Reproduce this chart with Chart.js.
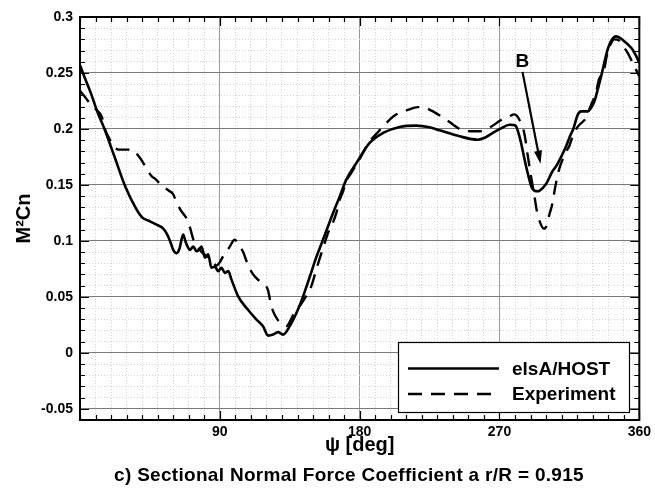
<!DOCTYPE html>
<html>
<head>
<meta charset="utf-8">
<script src="https://cdn.jsdelivr.net/npm/chart.js@4.4.1/dist/chart.umd.min.js"></script>
<style>
    html, body { margin: 0; padding: 0; background: #fff; }
</style>
</head>
<body>
<canvas id="cn-chart" width="655" height="491"></canvas>
<script>
// azimuth psi [deg] and M2Cn, elsA/HOST computation
const psiHost = [0, 3, 7, 11, 16, 22, 29, 36, 40, 45, 50, 53.6, 56, 58, 60, 62.1, 64, 66.4, 68, 69.6,
    70.7, 72.9, 75, 77, 78.2, 80.4, 82.5, 84.6, 86.8, 88.9, 91.1, 93.2, 95.4, 97.5, 101.8, 107.2, 113.6,
    117.8, 121.1, 124.3, 127.5, 130.7, 135, 140.3, 144, 147.9, 152, 156.4, 162.9, 167, 171.4, 177.9,
    186.4, 195, 205.7, 216.4, 225, 231.4, 244.3, 256.1, 261, 265.7, 271, 276.4, 279, 280.7, 282.3,
    283.9, 285.5, 287.1, 288.8, 290.4, 292.5, 294.6, 297.9, 300.5, 304, 306.5, 310, 313, 315.5, 317.5,
    320.4, 322.5, 326.8, 329, 331.1, 333, 335.4, 339.6, 342, 345, 348, 350.4, 353, 355.7, 358, 360];
const cnHost = [0.257, 0.246, 0.232, 0.216, 0.199, 0.176, 0.149, 0.129, 0.121, 0.1175, 0.114, 0.111,
    0.106, 0.0997, 0.092, 0.089, 0.093, 0.1056, 0.099, 0.094, 0.092, 0.095, 0.0907, 0.093, 0.095, 0.085,
    0.088, 0.076, 0.077, 0.073, 0.076, 0.0714, 0.073, 0.0654, 0.0505, 0.040, 0.0297, 0.0238, 0.0154,
    0.0163, 0.0185, 0.0163, 0.0238, 0.0387, 0.052, 0.068, 0.085, 0.101, 0.125, 0.139, 0.1547, 0.1696,
    0.1875, 0.1964, 0.2018, 0.203, 0.2015, 0.1988, 0.1934, 0.1904, 0.1925, 0.1964, 0.2005, 0.2038,
    0.2035, 0.2023, 0.196, 0.1875, 0.177, 0.1666, 0.157, 0.1488, 0.1448, 0.1443, 0.1473, 0.152, 0.162,
    0.1668, 0.176, 0.185, 0.194, 0.2, 0.2128, 0.2157, 0.2157, 0.219, 0.2246, 0.234, 0.247, 0.2708,
    0.279, 0.2827, 0.281, 0.2782, 0.275, 0.2708, 0.265, 0.259];

// experiment
const psiExp = [0, 3, 5.4, 7.3, 10.7, 14, 16, 19, 22, 25, 30, 34, 37, 39.4, 42.6, 46, 49, 51.4, 54, 57,
    59.8, 62, 65, 68.6, 71, 73, 76, 79, 82, 85.5, 88, 90, 92, 96, 99.6, 102, 105, 108, 111, 114, 117,
    121, 122.5, 124.3, 127.5, 130, 133, 135.5, 138, 142, 145.7, 149, 152, 154, 157.5, 159.6, 163, 165,
    167, 169, 172, 174.7, 180, 186, 191, 197, 202.5, 211, 217.5, 222, 228, 235, 240, 245, 251, 258,
    264.6, 271, 276, 279.6, 282.9, 286, 288, 290, 292.5, 294, 296, 298.5, 300.5, 302, 304, 306, 308.6,
    311, 313, 315, 317, 320.4, 325.7, 329, 332, 334, 337.5, 339, 341, 344, 347, 349.5, 352.5, 355.7, 360];
const cnExp = [0.234, 0.229, 0.2246, 0.222, 0.217, 0.211, 0.2, 0.191, 0.184, 0.1815, 0.1815, 0.1815,
    0.177, 0.1726, 0.165, 0.158, 0.1547, 0.151, 0.148, 0.145, 0.142, 0.135, 0.127, 0.12, 0.111, 0.101,
    0.094, 0.089, 0.086, 0.081, 0.078, 0.081, 0.086, 0.094, 0.101, 0.097, 0.09, 0.079, 0.071, 0.066,
    0.0625, 0.056, 0.046, 0.037, 0.029, 0.026, 0.024, 0.029, 0.036, 0.043, 0.051, 0.06, 0.074, 0.083,
    0.098, 0.107, 0.117, 0.125, 0.136, 0.143, 0.155, 0.161, 0.173, 0.188, 0.196, 0.205, 0.212, 0.217,
    0.2195, 0.219, 0.215, 0.209, 0.204, 0.1995, 0.198, 0.198, 0.202, 0.208, 0.211, 0.213, 0.208, 0.196,
    0.178, 0.16, 0.14, 0.127, 0.117, 0.111, 0.114, 0.123, 0.133, 0.149, 0.165, 0.174, 0.18, 0.185,
    0.193, 0.202, 0.21, 0.2217, 0.232, 0.244, 0.254, 0.265, 0.274, 0.28, 0.279, 0.274, 0.268, 0.259, 0.247];

const seriesNames = ['elsA/HOST', 'Experiment'];
const xMajorTicks = [90, 180, 270, 360];
const xTickLabels = ['90', '180', '270', '360'];
const yMajorTicks = [-0.05, 0, 0.05, 0.1, 0.15, 0.2, 0.25, 0.3];
const yTickLabels = ['-0.05', '0', '0.05', '0.1', '0.15', '0.2', '0.25', '0.3'];

// "B" marker and its arrow, in data units (psi, M2Cn)
const markText = 'B';
const markAt = [284.8, 0.26];
const arrowFrom = [284.8, 0.251];
const arrowTo = [296.4, 0.169];

const caption = 'c) Sectional Normal Force Coefficient a r/R = 0.915';

const FONT = '"Liberation Sans", Arial, Helvetica, sans-serif';

function toPoints(xs, ys) {
    return xs.map((v, i) => ({x: v, y: ys[i]}));
}

function isMajorY(value) {
    return yMajorTicks.findIndex((t) => Math.abs(t - value) < 1e-6);
}

// inward ticks, frame, legend, marker and caption
const decorations = {
    id: 'decorations',
    afterDatasetsDraw(chart) {
        const {ctx, chartArea: a, scales: {x, y}} = chart;
        ctx.save();
        ctx.strokeStyle = '#000';
        ctx.lineWidth = 1.2;
        ctx.beginPath();
        x.ticks.forEach((t) => {
            const px = Math.round(x.getPixelForValue(t.value)) + 0.5;
            const len = xMajorTicks.includes(t.value) ? 9 : 5;
            ctx.moveTo(px, a.bottom); ctx.lineTo(px, a.bottom - len);
            ctx.moveTo(px, a.top); ctx.lineTo(px, a.top + len);
        });
        y.ticks.forEach((t) => {
            const py = Math.round(y.getPixelForValue(t.value)) + 0.5;
            const len = isMajorY(t.value) >= 0 ? 9 : 5;
            ctx.moveTo(a.left, py); ctx.lineTo(a.left + len, py);
            ctx.moveTo(a.right, py); ctx.lineTo(a.right - len, py);
        });
        ctx.stroke();

        ctx.lineWidth = 2;
        ctx.strokeRect(a.left, a.top, a.right - a.left, a.bottom - a.top);

        // legend box
        ctx.fillStyle = '#fff';
        ctx.fillRect(398, 342, 231, 70);
        ctx.lineWidth = 1.2;
        ctx.strokeRect(398.5, 342.5, 231, 70);
        const rows = [368.5, 394];
        chart.data.datasets.forEach((ds, i) => {
            ctx.beginPath();
            ctx.lineWidth = ds.borderWidth;
            ctx.setLineDash(ds.borderDash || []);
            ctx.moveTo(408, rows[i]);
            ctx.lineTo(499, rows[i]);
            ctx.stroke();
            ctx.setLineDash([]);
            ctx.fillStyle = '#000';
            ctx.font = 'bold 19px ' + FONT;
            ctx.textBaseline = 'middle';
            ctx.textAlign = 'left';
            ctx.fillText(seriesNames[i], 512, rows[i] + 1);
        });

        // marker B with arrow
        const bx = x.getPixelForValue(markAt[0]);
        const by = y.getPixelForValue(markAt[1]);
        ctx.font = 'bold 19px ' + FONT;
        ctx.textAlign = 'center';
        ctx.textBaseline = 'middle';
        ctx.fillText(markText, bx, by);
        const x0 = x.getPixelForValue(arrowFrom[0]), y0 = y.getPixelForValue(arrowFrom[1]);
        const x1 = x.getPixelForValue(arrowTo[0]), y1 = y.getPixelForValue(arrowTo[1]);
        const ang = Math.atan2(y1 - y0, x1 - x0);
        const headLen = 13, headW = 4;
        ctx.lineWidth = 2.2;
        ctx.beginPath();
        ctx.moveTo(x0, y0);
        ctx.lineTo(x1 - Math.cos(ang) * headLen * 0.8, y1 - Math.sin(ang) * headLen * 0.8);
        ctx.stroke();
        ctx.beginPath();
        ctx.moveTo(x1, y1);
        ctx.lineTo(x1 - Math.cos(ang) * headLen - Math.sin(ang) * headW, y1 - Math.sin(ang) * headLen + Math.cos(ang) * headW);
        ctx.lineTo(x1 - Math.cos(ang) * headLen + Math.sin(ang) * headW, y1 - Math.sin(ang) * headLen - Math.cos(ang) * headW);
        ctx.closePath();
        ctx.fill();

        // caption under the axis title
        ctx.font = 'bold 19px ' + FONT;
        ctx.letterSpacing = '0.3px';
        ctx.textAlign = 'center';
        ctx.textBaseline = 'alphabetic';
        ctx.fillText(caption, 349, 480.5);
        ctx.restore();
    }
};

const ctx = document.getElementById('cn-chart');
new Chart(ctx, {
    type: 'scatter',
    data: {
        datasets: [
            {
                label: seriesNames[0],
                data: toPoints(psiHost, cnHost),
                showLine: true,
                borderColor: '#000',
                borderWidth: 2.6,
                pointRadius: 0,
                cubicInterpolationMode: 'monotone',
                order: 0,
            },
            {
                label: seriesNames[1],
                data: toPoints(psiExp, cnExp),
                showLine: true,
                borderColor: '#000',
                borderWidth: 2.4,
                borderDash: [14, 9],
                pointRadius: 0,
                cubicInterpolationMode: 'monotone',
                order: 1,
            },
        ],
    },
    options: {
        responsive: false,
        animation: false,
        devicePixelRatio: 1,
        layout: {padding: {left: 0, top: 17, right: 15, bottom: 0}},
        plugins: {
            legend: {display: false},
            tooltip: {enabled: false},
        },
        scales: {
            x: {
                type: 'linear',
                min: 0,
                max: 360,
                afterFit(scale) {
                    scale.height = 71;
                },
                ticks: {
                    stepSize: 10,
                    autoSkip: false,
                    maxRotation: 0,
                    maxTicksLimit: 100,
                    padding: 4,
                    color: '#000',
                    font: {family: FONT, size: 14, weight: 'bold'},
                    callback: (value) => {
                        const i = xMajorTicks.indexOf(value);
                        return i >= 0 ? xTickLabels[i] : '';
                    },
                },
                grid: {
                    drawTicks: false,
                    lineWidth: 1,
                    color: (c) => (c.tick && xMajorTicks.includes(c.tick.value)) ? '#999' : '#d4d4d4',
                },
                border: {
                    display: false,
                    dash: (c) => (c.tick && !xMajorTicks.includes(c.tick.value)) ? [1, 2] : [],
                },
                title: {
                    display: true,
                    text: 'ψ [deg]',
                    color: '#000',
                    font: {family: FONT, size: 20, weight: 'bold'},
                    padding: {top: 0, bottom: 34},
                },
            },
            y: {
                type: 'linear',
                min: -0.06,
                max: 0.3,
                afterFit(scale) {
                    scale.width = 80;
                },
                ticks: {
                    stepSize: 0.01,
                    autoSkip: false,
                    maxTicksLimit: 100,
                    padding: 7,
                    color: '#000',
                    font: {family: FONT, size: 14, weight: 'bold'},
                    callback: (value) => {
                        const i = isMajorY(value);
                        return i >= 0 ? yTickLabels[i] : '';
                    },
                },
                grid: {
                    drawTicks: false,
                    lineWidth: 1,
                    color: (c) => (c.tick && isMajorY(c.tick.value) >= 0) ? '#7a7a7a' : '#d4d4d4',
                },
                border: {
                    display: false,
                    dash: (c) => (c.tick && isMajorY(c.tick.value) < 0) ? [1, 2] : [],
                },
                title: {
                    display: true,
                    text: 'M²Cn',
                    color: '#000',
                    font: {family: FONT, size: 20, weight: 'bold'},
                    padding: {top: 12, bottom: 0},
                },
            },
        },
    },
    plugins: [decorations],
});
</script>
</body>
</html>
